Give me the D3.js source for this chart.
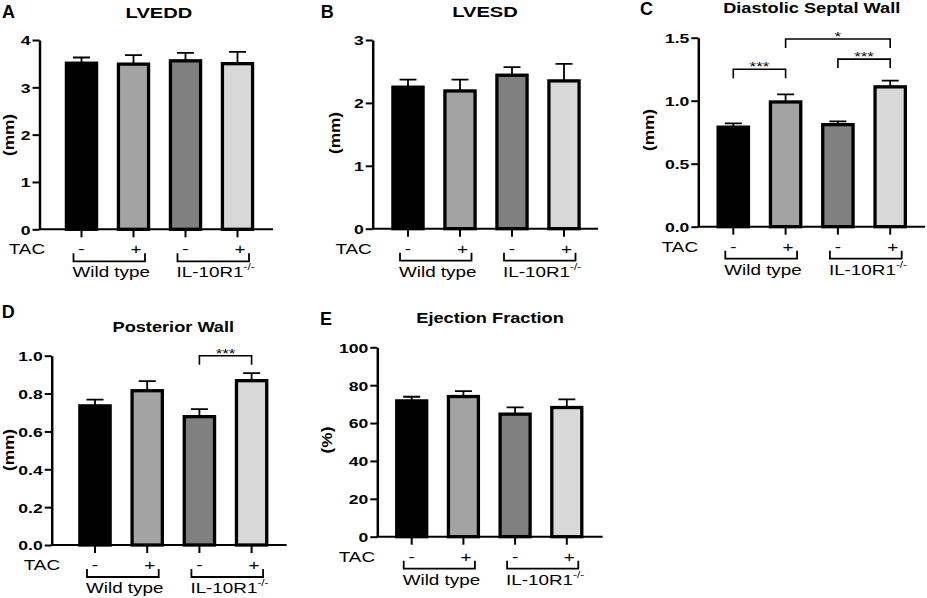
<!DOCTYPE html>
<html>
<head>
<meta charset="utf-8">
<script src="https://cdn.jsdelivr.net/npm/d3@7"></script>
<style>
  body { margin: 0; background: #fff; }
  svg text { font-family: "Liberation Sans", Arial, sans-serif; fill: #000; }
</style>
</head>
<body>
<svg id="fig" width="927" height="598"></svg>
<script>
// groups in the order they are plotted
const groups = ["wt_sham", "wt_tac", "ko_sham", "ko_tac"];
const tacSigns = ["-", "+", "-", "+"];
const genotypes = ["Wild type", "IL-10R1"];

// mean and SEM
const lveddMean = [3.51, 3.49, 3.56, 3.50];
const lveddSem  = [0.12, 0.19, 0.17, 0.25];
const lvesdMean = [2.25, 2.19, 2.44, 2.35];
const lvesdSem  = [0.12, 0.18, 0.13, 0.27];
const septMean  = [0.79, 0.99, 0.81, 1.11];
const septSem   = [0.03, 0.06, 0.026, 0.05];
const postMean  = [0.735, 0.815, 0.678, 0.868];
const postSem   = [0.033, 0.051, 0.04, 0.04];
const efMean    = [71.7, 74.0, 64.7, 68.2];
const efSem     = [2.2, 2.9, 3.6, 4.3];

// significance brackets: [from group, to group, height in data units, label]
const septSig = [[0, 1, 1.25, "***"], [1, 3, 1.49, "*"], [2, 3, 1.33, "***"]];
const postSig = [[2, 3, 1.0, "***"]];

const barFills = ["#000000", "#a3a3a3", "#808080", "#d8d8d8"];
const SX = 1.3; // the figure's lettering is wide

const svg = d3.select("#fig");

const panels = [
  { letter: "A", title: "LVEDD", unit: "(mm)", mean: lveddMean, sem: lveddSem, yMax: 4, step: 1, fmt: "d", sig: [],
    x0: 39.5, y0: 229.3, yTop: 40, len: 233.5, first: 42, gap: 52,
    titleX: 159, titleY: 17.5, titleSize: 15.5, letterX: 2, letterY: 18.3, labX: 9, labY: 135, tacX: 45 },
  { letter: "B", title: "LVESD", unit: "(mm)", mean: lvesdMean, sem: lvesdSem, yMax: 3, step: 1, fmt: "d", sig: [],
    x0: 372.7, y0: 228.7, yTop: 40, len: 225.3, first: 35.3, gap: 52,
    titleX: 485, titleY: 16.7, titleSize: 15.5, letterX: 320.7, letterY: 18.3, labX: 335, labY: 133, tacX: 371.7 },
  { letter: "C", title: "Diastolic Septal Wall", unit: "(mm)", mean: septMean, sem: septSem, yMax: 1.5, step: 0.5, fmt: ".1f", sig: septSig,
    x0: 698.3, y0: 226.7, yTop: 37.7, len: 226.7, first: 35, gap: 52.3,
    titleX: 811.7, titleY: 13.3, titleSize: 14, letterX: 640, letterY: 15, labX: 649, labY: 130, tacX: 698 },
  { letter: "D", title: "Posterior Wall", unit: "(mm)", mean: postMean, sem: postSem, yMax: 1.0, step: 0.2, fmt: ".1f", sig: postSig,
    x0: 51.7, y0: 545, yTop: 355.7, len: 235, first: 43.3, gap: 52.2,
    titleX: 173.3, titleY: 331.7, titleSize: 14, letterX: 1.7, letterY: 318.3, labX: 8.5, labY: 450, tacX: 60 },
  { letter: "E", title: "Ejection Fraction", unit: "(%)", mean: efMean, sem: efSem, yMax: 100, step: 20, fmt: "d", sig: [],
    x0: 377.3, y0: 536.7, yTop: 347.3, len: 225.3, first: 34.4, gap: 51.7,
    titleX: 490, titleY: 323.3, titleSize: 14, letterX: 320, letterY: 325, labX: 326.7, labY: 440, tacX: 375 }
];

// horizontally stretched text
function wideText(g, x, y, str, size, bold, anchor) {
  return g.append("text")
    .attr("transform", `translate(${x},${y}) scale(${SX},1)`)
    .attr("font-size", size)
    .attr("font-weight", bold ? "bold" : "normal")
    .attr("text-anchor", anchor || "start")
    .text(str);
}

function drawPanel(p) {
  const g = svg.append("g");

  const y = d3.scaleLinear().domain([0, p.yMax]).range([p.y0, p.yTop]);
  const start = p.x0 + p.first - p.gap / 2;
  const x = d3.scaleBand().domain(groups)
    .range([start, start + 4 * p.gap])
    .paddingInner(0.42).paddingOuter(0.21);
  const bw = x.bandwidth();
  const cx = d => x(d) + bw / 2;

  // bars
  g.selectAll("rect.bar").data(groups).join("rect")
    .attr("class", "bar")
    .attr("x", d => x(d))
    .attr("width", bw)
    .attr("y", (d, i) => y(p.mean[i]))
    .attr("height", (d, i) => y(0) - y(p.mean[i]))
    .attr("fill", (d, i) => barFills[i])
    .attr("stroke", "#000")
    .attr("stroke-width", 3.3);

  // error bars, upper only
  g.selectAll("path.err").data(groups).join("path")
    .attr("class", "err")
    .attr("d", (d, i) => {
      const top = y(p.mean[i] + p.sem[i]);
      return `M${cx(d)},${y(p.mean[i])}V${top}M${cx(d) - 8.5},${top}H${cx(d) + 8.5}`;
    })
    .attr("fill", "none")
    .attr("stroke", "#000")
    .attr("stroke-width", 1.8);

  // y axis
  const ya = g.append("g")
    .attr("transform", `translate(${p.x0},0)`)
    .call(d3.axisLeft(y)
      .tickValues(d3.range(0, p.yMax + p.step / 2, p.step))
      .tickFormat(d3.format(p.fmt))
      .tickSize(7).tickSizeOuter(0));
  ya.attr("font-size", null).attr("font-family", null);
  ya.select(".domain").attr("stroke-width", 2.5);
  ya.selectAll(".tick line").attr("stroke-width", 2);
  ya.selectAll(".tick text")
    .attr("x", null)
    .attr("dy", "0.36em")
    .attr("font-size", 13.5)
    .attr("font-weight", "bold")
    .attr("transform", `translate(-9,0) scale(${SX},1)`);

  // x axis
  g.append("line")
    .attr("x1", p.x0).attr("x2", p.x0 + p.len)
    .attr("y1", p.y0).attr("y2", p.y0)
    .attr("stroke", "#000").attr("stroke-width", 2);
  const xa = g.append("g")
    .attr("transform", `translate(0,${p.y0})`)
    .call(d3.axisBottom(x).tickSize(8).tickSizeOuter(0).tickFormat(""));
  xa.select(".domain").remove();
  xa.selectAll(".tick line").attr("stroke-width", 2);

  // TAC row
  wideText(g, p.tacX, p.y0 + 25, "TAC", 14.5, false, "end");
  groups.forEach((d, i) => {
    wideText(g, cx(d) + (tacSigns[i] === "+" ? 2.5 : 0), p.y0 + 25, tacSigns[i], 14.5, false, "middle");
  });

  // genotype brackets and labels
  genotypes.forEach((name, k) => {
    const left = cx(groups[2 * k]) - 8;
    const right = cx(groups[2 * k + 1]) + 11.5;
    g.append("path")
      .attr("d", `M${left},${p.y0 + 24}V${p.y0 + 32}H${right}V${p.y0 + 24}`)
      .attr("fill", "none").attr("stroke", "#000").attr("stroke-width", 1.8);
    const t = wideText(g, left - 1, p.y0 + 48, name, 14.5, false, "start");
    if (k === 1) {
      t.append("tspan").attr("dy", -7).attr("font-size", 9).text("-/-");
    }
  });

  // significance brackets
  p.sig.forEach(([a, b, h, label]) => {
    const xa1 = cx(groups[a]), xb1 = cx(groups[b]), yy = y(h);
    g.append("path")
      .attr("d", `M${xa1},${yy + 9}V${yy}H${xb1}V${yy + 9}`)
      .attr("fill", "none").attr("stroke", "#000").attr("stroke-width", 1.6);
    wideText(g, (xa1 + xb1) / 2, yy + 2, label, 13, false, "middle");
  });

  // title, panel letter, y label
  wideText(g, p.titleX, p.titleY, p.title, p.titleSize, true, "middle");
  g.append("text")
    .attr("x", p.letterX).attr("y", p.letterY)
    .attr("font-size", 18).attr("font-weight", "bold")
    .text(p.letter);
  g.append("text")
    .attr("transform", `translate(${p.labX},${p.labY}) rotate(-90) scale(1.15,1)`)
    .attr("text-anchor", "middle")
    .attr("dy", "0.35em")
    .attr("font-size", 15)
    .attr("font-weight", "bold")
    .text(p.unit);
}

panels.forEach(drawPanel);
</script>
</body>
</html>
